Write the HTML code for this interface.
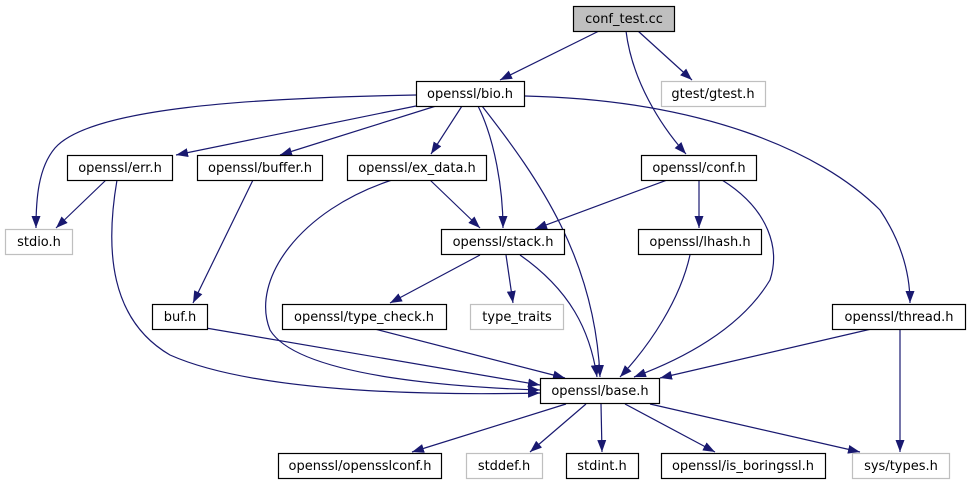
<!DOCTYPE html>
<html><head><meta charset="utf-8"><style>
body{margin:0;background:#fff}
svg{display:block}
text{font-family:"DejaVu Sans","Liberation Sans",sans-serif;font-size:13px;text-anchor:middle}
.n rect{fill:#fff;stroke:#000;stroke-width:1.2}
.g rect{fill:#fff;stroke:#bfbfbf;stroke-width:1.2}
path.e{fill:none;stroke:#191970;stroke-width:1.2}
</style></head><body>
<svg width="972" height="485" viewBox="0 0 972 485" xmlns="http://www.w3.org/2000/svg">
<defs><marker id="a" viewBox="0 0 12 10" refX="12" refY="5" markerWidth="12" markerHeight="10" markerUnits="userSpaceOnUse" orient="auto"><path d="M0,0.5 L12,5 L0,9.5 z" fill="#191970"/></marker></defs>
<g marker-end="url(#a)">
<path class="e" d="M599,31 L500,80"/>
<path class="e" d="M626,31 C632,80 660,125 686,154"/>
<path class="e" d="M638,31 L692,80"/>
<path class="e" d="M416,95 C250,98 90,108 55,148 C38,168 36,200 36,228"/>
<path class="e" d="M416,106 L176,155"/>
<path class="e" d="M436,106 L280,155"/>
<path class="e" d="M462,106 L431,154"/>
<path class="e" d="M478,106 C495,140 503,190 503,228"/>
<path class="e" d="M482,106 C540,180 595,260 600,377"/>
<path class="e" d="M525,96 C700,100 820,150 880,210 C900,240 910,270 910,303"/>
<path class="e" d="M106,180 L56,228"/>
<path class="e" d="M117,180 C105,250 110,320 170,355 C260,395 450,395 540,393"/>
<path class="e" d="M253,180 L193,303"/>
<path class="e" d="M392,180 C300,210 250,280 270,330 C300,380 480,388 540,390"/>
<path class="e" d="M430,180 L480,228"/>
<path class="e" d="M667,180 L535,229"/>
<path class="e" d="M699,180 L699,228"/>
<path class="e" d="M722,180 C770,210 780,250 770,280 C740,330 680,360 634,377"/>
<path class="e" d="M480,255 L390,303"/>
<path class="e" d="M506,255 L513,303"/>
<path class="e" d="M520,255 C570,290 590,330 597,377"/>
<path class="e" d="M690,255 C680,300 650,345 620,377"/>
<path class="e" d="M200,327 L540,385"/>
<path class="e" d="M367,327 L565,378"/>
<path class="e" d="M880,327 L660,378"/>
<path class="e" d="M900,327 L900,452"/>
<path class="e" d="M566,404 L412,452"/>
<path class="e" d="M586,404 L530,452"/>
<path class="e" d="M601,404 L602,452"/>
<path class="e" d="M625,404 L715,452"/>
<path class="e" d="M650,404 L860,452"/>
</g>
<g class="n"><rect x="573.5" y="6.5" width="101" height="25" style="fill:#bfbfbf"/><text x="624" y="23">conf_test.cc</text></g>
<g class="n"><rect x="416.5" y="81.5" width="108" height="25"/><text x="470" y="98">openssl/bio.h</text></g>
<g class="g"><rect x="661.5" y="81.5" width="104" height="25"/><text x="713" y="98">gtest/gtest.h</text></g>
<g class="n"><rect x="67.5" y="155.5" width="105" height="25"/><text x="120" y="172">openssl/err.h</text></g>
<g class="n"><rect x="197.5" y="155.5" width="125" height="25"/><text x="260" y="172">openssl/buffer.h</text></g>
<g class="n"><rect x="347.5" y="155.5" width="139" height="25"/><text x="417" y="172">openssl/ex_data.h</text></g>
<g class="n"><rect x="641.5" y="155.5" width="115" height="25"/><text x="699" y="172">openssl/conf.h</text></g>
<g class="g"><rect x="5.5" y="229.5" width="67" height="25"/><text x="39" y="246">stdio.h</text></g>
<g class="n"><rect x="441.5" y="229.5" width="123" height="25"/><text x="503" y="246">openssl/stack.h</text></g>
<g class="n"><rect x="638.5" y="229.5" width="123" height="25"/><text x="700" y="246">openssl/lhash.h</text></g>
<g class="n"><rect x="152.5" y="304.5" width="55" height="25"/><text x="180" y="321">buf.h</text></g>
<g class="n"><rect x="282.5" y="304.5" width="164" height="25"/><text x="364" y="321">openssl/type_check.h</text></g>
<g class="g"><rect x="470.5" y="304.5" width="93" height="25"/><text x="517" y="321">type_traits</text></g>
<g class="n"><rect x="832.5" y="304.5" width="133" height="25"/><text x="899" y="321">openssl/thread.h</text></g>
<g class="n"><rect x="540.5" y="378.5" width="119" height="25"/><text x="600" y="395">openssl/base.h</text></g>
<g class="n"><rect x="278.5" y="453.5" width="163" height="25"/><text x="360" y="470">openssl/opensslconf.h</text></g>
<g class="g"><rect x="466.5" y="453.5" width="76" height="25"/><text x="504" y="470">stddef.h</text></g>
<g class="n"><rect x="566.5" y="453.5" width="72" height="25"/><text x="602" y="470">stdint.h</text></g>
<g class="n"><rect x="661.5" y="453.5" width="164" height="25"/><text x="743" y="470">openssl/is_boringssl.h</text></g>
<g class="g"><rect x="852.5" y="453.5" width="97" height="25"/><text x="901" y="470">sys/types.h</text></g>
</svg>
</body></html>
